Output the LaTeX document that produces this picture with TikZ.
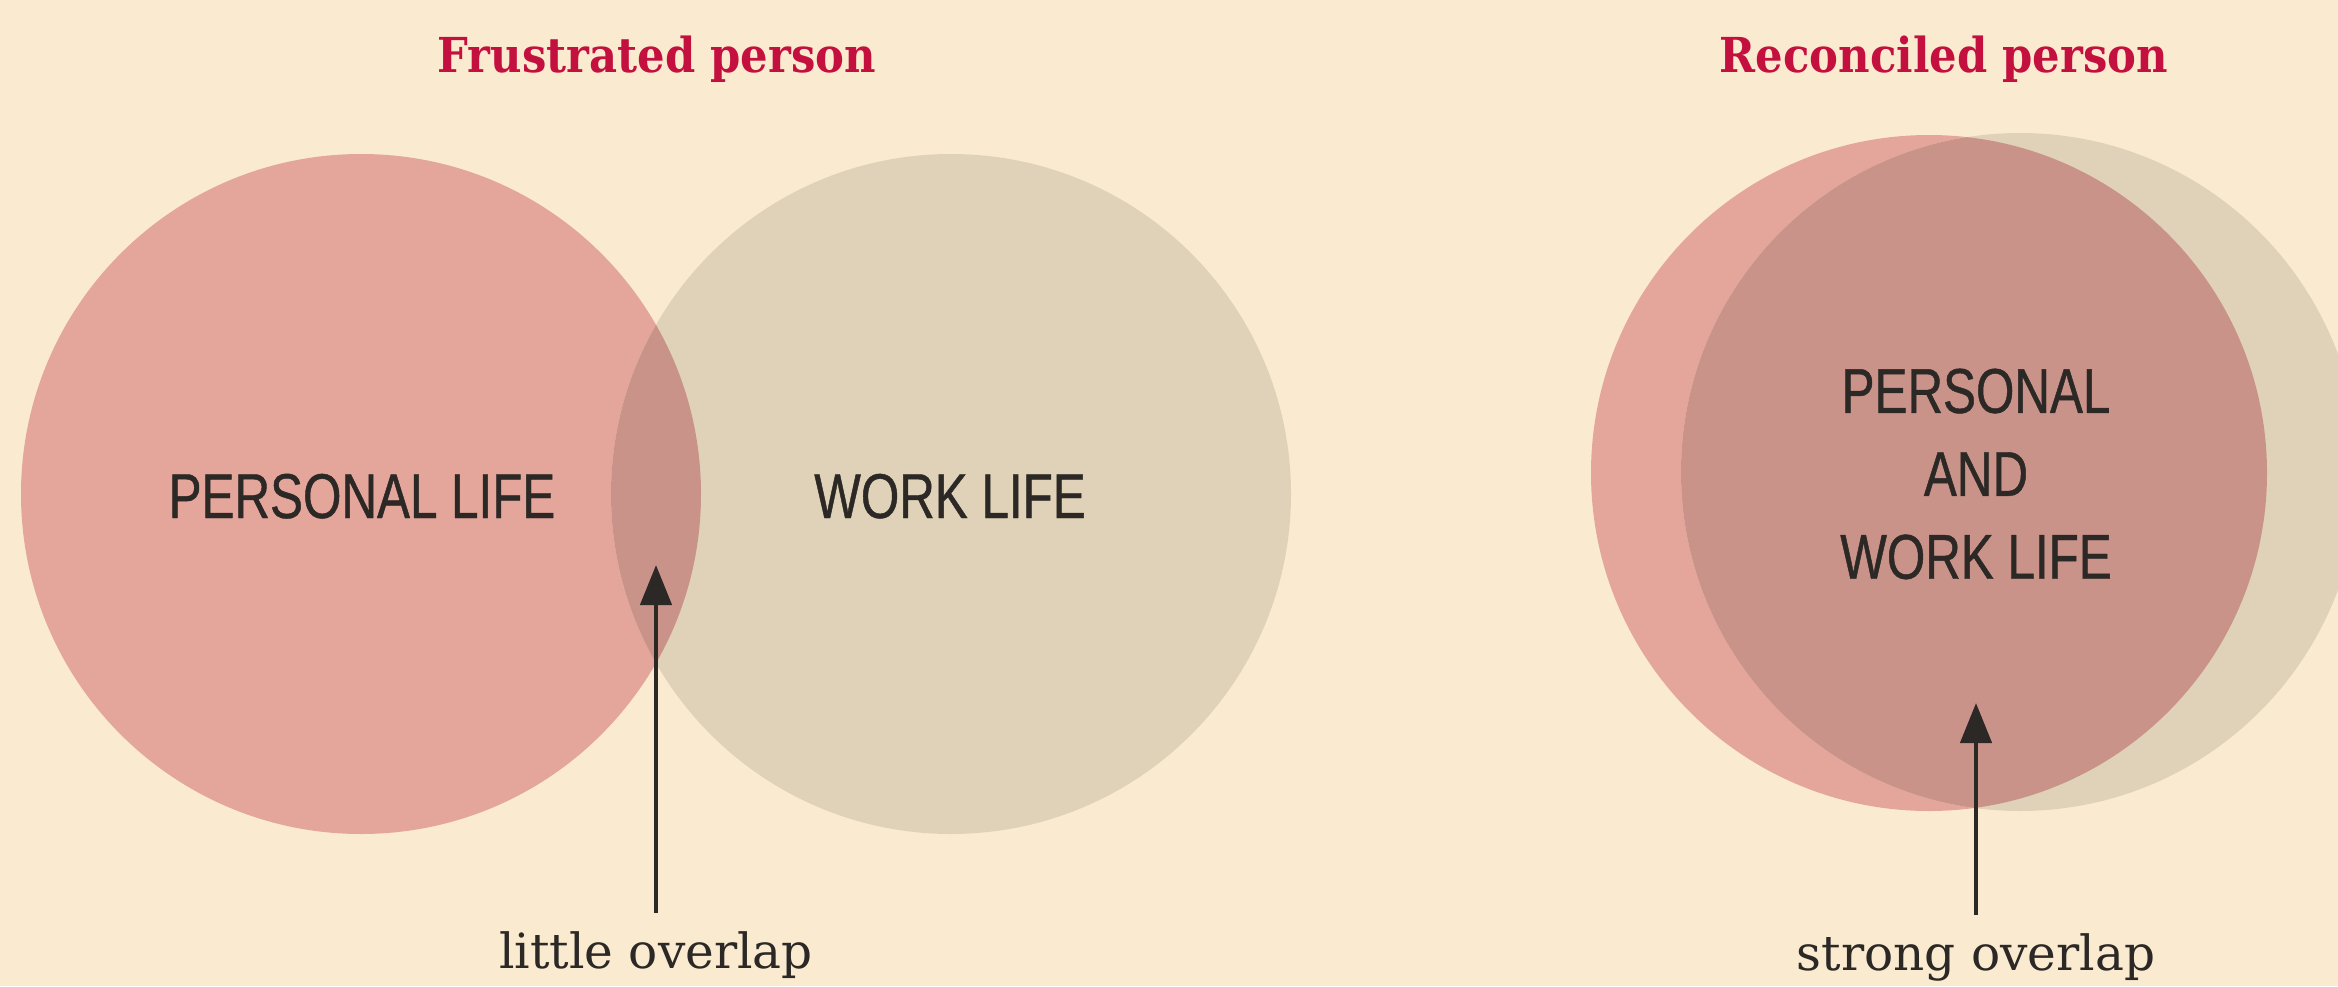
\documentclass[tikz,border=0pt]{standalone}
\usepackage{fontspec}
\usetikzlibrary{arrows.meta}

\newfontfamily\slabfont{DejaVu Serif}
\newfontfamily\headfont[FakeStretch=0.9]{DejaVu Serif}
\newfontfamily\condfont[FakeStretch=0.78, FakeBold=0.7]{Liberation Sans}

\definecolor{cream}{HTML}{FAEBD0}
\definecolor{personalpink}{HTML}{E4A59B}
\definecolor{worksand}{HTML}{E0D2B8}
\definecolor{overlaprose}{HTML}{CA938A}
\definecolor{headred}{HTML}{C4103F}
\definecolor{inkgray}{HTML}{2B2825}

\tikzset{
  heading/.style={anchor=base, text=headred, font=\headfont\bfseries\fontsize{13.7}{16}\selectfont},
  lifelabel/.style={anchor=base, text=inkgray, font=\condfont\fontsize{18}{23.6}\selectfont},
  overlaplabel/.style={anchor=base, text=inkgray, inner sep=5pt, font=\slabfont\fontsize{13.8}{16}\selectfont},
  pointer/.style={draw=inkgray, line width=1.3pt, -{Triangle[length=4mm, width=3.1mm]}}
}

\begin{document}
\begin{tikzpicture}
\useasboundingbox (0,0) rectangle (23.38,9.86);
\fill[cream] (0,0) rectangle (23.38,9.86);
\clip (0,0) rectangle (23.38,9.86);

% frustrated person
\fill[personalpink] (3.61,4.92) circle (3.40cm);
\fill[worksand] (9.51,4.92) circle (3.40cm);
\begin{scope}
\clip (3.61,4.92) circle (3.40cm);
\fill[overlaprose] (9.51,4.92) circle (3.40cm);
\end{scope}

% reconciled person
\fill[personalpink] (19.29,5.13) circle (3.38cm);
\fill[worksand] (20.20,5.14) circle (3.39cm);
\begin{scope}
\clip (19.29,5.13) circle (3.38cm);
\fill[overlaprose] (20.20,5.14) circle (3.39cm);
\end{scope}

\node[heading] (frustrated) at (6.57,9.14) {Frustrated person};
\node[heading] (reconciled) at (19.44,9.14) {Reconciled person};

\node[lifelabel] (personal) at (3.62,4.68) {PERSONAL LIFE};
\node[lifelabel] (work) at (9.50,4.68) {WORK LIFE};
\node[lifelabel, anchor=center, align=center] (both) at (19.76,5.12) {PERSONAL\\AND\\WORK LIFE};

\node[overlaplabel] (little) at (6.56,0.18) {little overlap};
\node[overlaplabel] (strong) at (19.76,0.16) {strong overlap};

\coordinate (littletip) at (6.56,4.21);
\coordinate (strongtip) at (19.76,2.83);
\draw[pointer] (little.north) -- (littletip);
\draw[pointer] (strong.north) -- (strongtip);
\end{tikzpicture}
\end{document}
